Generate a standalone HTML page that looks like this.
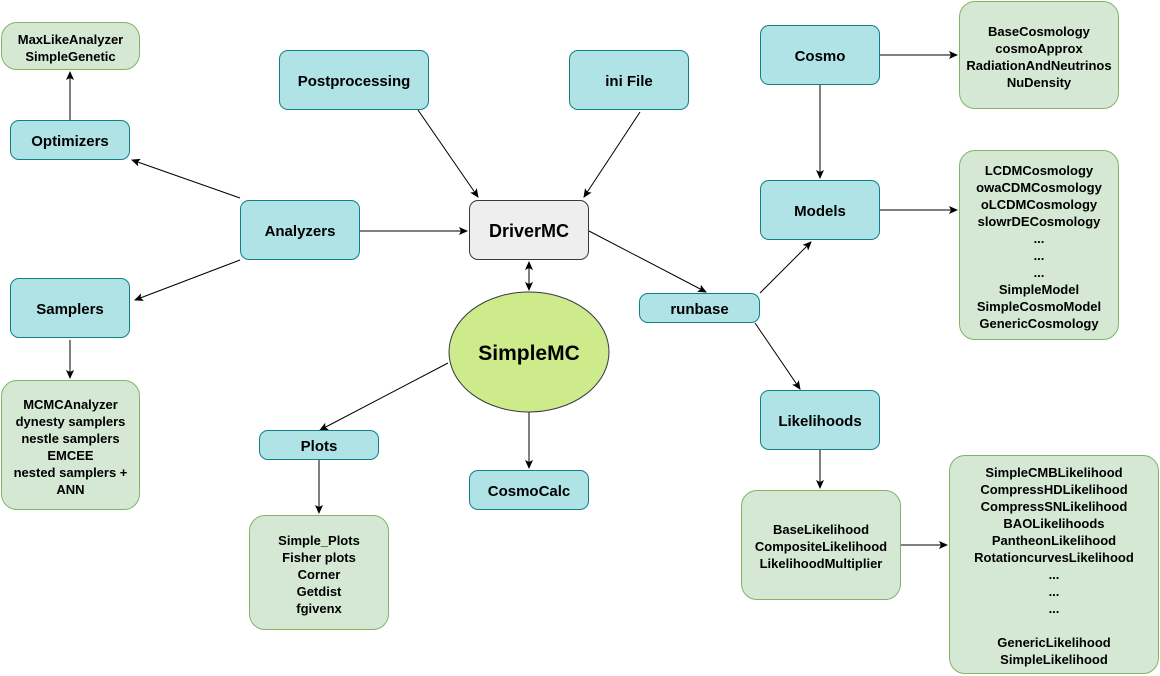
<!DOCTYPE html>
<html><head><meta charset="utf-8"><style>
body{margin:0;width:1160px;height:676px;background:#fff;position:relative;overflow:hidden;font-family:"Liberation Sans",Arial,sans-serif;font-weight:bold;color:#000}
.b{position:absolute;box-sizing:border-box;display:flex;align-items:center;justify-content:center;text-align:center;border-radius:9px;padding-top:3px}
.c{background:#b0e3e6;border:1px solid #0e8088;font-size:15px}
.g{background:#d5e8d4;border:1px solid #82b366;font-size:13px;line-height:17px;border-radius:16px}
svg{position:absolute;left:0;top:0}
</style></head><body>
<svg width="1160" height="676"><defs><marker id="a" markerWidth="10" markerHeight="10" refX="8" refY="4" orient="auto" markerUnits="userSpaceOnUse"><path d="M0,0 L9,4 L0,8 L2,4z" fill="#000"/></marker></defs>
<g stroke="#000" stroke-width="1" marker-end="url(#a)" fill="none">
<line x1="240" y1="198" x2="132" y2="160"/>
<line x1="240" y1="260" x2="135" y2="300"/>
<line x1="360" y1="231" x2="467" y2="231"/>
<line x1="70" y1="120" x2="70" y2="72"/>
<line x1="70" y1="340" x2="70" y2="378"/>
<line x1="418" y1="110" x2="478" y2="197"/>
<line x1="640" y1="112" x2="584" y2="197"/>
<line x1="589" y1="231" x2="706" y2="292"/>
<line x1="529" y1="275" x2="529" y2="290"/>
<line x1="529" y1="277" x2="529" y2="262"/>
<line x1="448" y1="363" x2="320" y2="430"/>
<line x1="529" y1="412" x2="529" y2="468"/>
<line x1="319" y1="460" x2="319" y2="513"/>
<line x1="760" y1="293" x2="811" y2="242"/>
<line x1="755" y1="323" x2="800" y2="389"/>
<line x1="880" y1="55" x2="957" y2="55"/>
<line x1="820" y1="85" x2="820" y2="178"/>
<line x1="880" y1="210" x2="957" y2="210"/>
<line x1="820" y1="450" x2="820" y2="488"/>
<line x1="901" y1="545" x2="947" y2="545"/>
</g>
<ellipse cx="529" cy="352" rx="80" ry="60" fill="#cdeb8b" stroke="#36393d"/>
<text x="529" y="360" text-anchor="middle" font-family="Liberation Sans,Arial,sans-serif" font-weight="bold" font-size="21">SimpleMC</text>
</svg>
<div class="b g" style="left:1px;top:22px;width:139px;height:48px">MaxLikeAnalyzer<br>SimpleGenetic</div>
<div class="b c" style="left:10px;top:120px;width:120px;height:40px">Optimizers</div>
<div class="b c" style="left:240px;top:200px;width:120px;height:60px">Analyzers</div>
<div class="b c" style="left:10px;top:278px;width:120px;height:60px">Samplers</div>
<div class="b g" style="left:1px;top:380px;width:139px;height:130px">MCMCAnalyzer<br>dynesty samplers<br>nestle samplers<br>EMCEE<br>nested samplers +<br>ANN</div>
<div class="b c" style="left:279px;top:50px;width:150px;height:60px">Postprocessing</div>
<div class="b c" style="left:569px;top:50px;width:120px;height:60px">ini File</div>
<div class="b" style="left:469px;top:200px;width:120px;height:60px;background:#eeeeee;border:1px solid #36393d;font-size:18px">DriverMC</div>
<div class="b c" style="left:259px;top:430px;width:120px;height:30px">Plots</div>
<div class="b c" style="left:469px;top:470px;width:120px;height:40px">CosmoCalc</div>
<div class="b g" style="left:249px;top:515px;width:140px;height:115px">Simple_Plots<br>Fisher plots<br>Corner<br>Getdist<br>fgivenx</div>
<div class="b c" style="left:639px;top:293px;width:121px;height:30px">runbase</div>
<div class="b c" style="left:760px;top:25px;width:120px;height:60px">Cosmo</div>
<div class="b c" style="left:760px;top:180px;width:120px;height:60px">Models</div>
<div class="b c" style="left:760px;top:390px;width:120px;height:60px">Likelihoods</div>
<div class="b g" style="left:959px;top:1px;width:160px;height:108px">BaseCosmology<br>cosmoApprox<br>RadiationAndNeutrinos<br>NuDensity</div>
<div class="b g" style="left:959px;top:150px;width:160px;height:190px">LCDMCosmology<br>owaCDMCosmology<br>oLCDMCosmology<br>slowrDECosmology<br>...<br>...<br>...<br>SimpleModel<br>SimpleCosmoModel<br>GenericCosmology</div>
<div class="b g" style="left:741px;top:490px;width:160px;height:110px">BaseLikelihood<br>CompositeLikelihood<br>LikelihoodMultiplier</div>
<div class="b g" style="left:949px;top:455px;width:210px;height:219px">SimpleCMBLikelihood<br>CompressHDLikelihood<br>CompressSNLikelihood<br>BAOLikelihoods<br>PantheonLikelihood<br>RotationcurvesLikelihood<br>...<br>...<br>...<br><br>GenericLikelihood<br>SimpleLikelihood</div>
</body></html>
